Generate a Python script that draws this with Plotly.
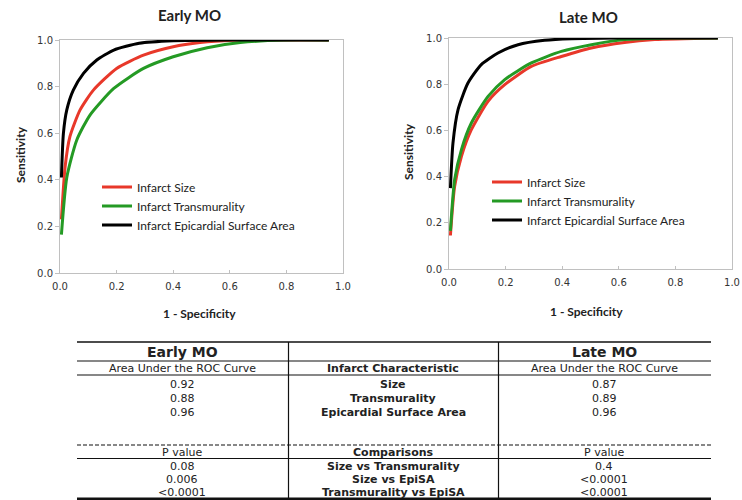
import plotly.graph_objects as go

W, H = 742, 500

# ---------------- data ----------------
series_names = ["Infarct Size", "Infarct Transmurality", "Infarct Epicardial Surface Area"]
series_colors = ["#e8382a", "#249a24", "#000000"]

# Early MO ROC curves (1 - specificity, sensitivity)
early_size_x = [0.005, 0.018, 0.035, 0.071, 0.118, 0.20, 0.295, 0.40, 0.495, 0.61, 0.75, 0.95]
early_size_y = [0.23, 0.455, 0.585, 0.70, 0.785, 0.878, 0.935, 0.971, 0.989, 0.999, 1.0, 1.0]
early_trans_x = [0.005, 0.024, 0.059, 0.106, 0.19, 0.295, 0.40, 0.52, 0.637, 0.79, 0.95]
early_trans_y = [0.165, 0.41, 0.57, 0.678, 0.792, 0.878, 0.928, 0.967, 0.989, 1.0, 1.0]
early_epi_x = [0.005, 0.012, 0.024, 0.047, 0.083, 0.13, 0.19, 0.28, 0.40, 0.61, 0.95]
early_epi_y = [0.41, 0.599, 0.70, 0.785, 0.857, 0.914, 0.957, 0.986, 0.997, 1.0, 1.0]

# Late MO ROC curves
late_size_x = [0.005, 0.02, 0.044, 0.079, 0.138, 0.197, 0.291, 0.397, 0.503, 0.62, 0.727, 0.95]
late_size_y = [0.145, 0.358, 0.488, 0.603, 0.726, 0.798, 0.877, 0.92, 0.957, 0.981, 0.993, 1.0]
late_trans_x = [0.005, 0.02, 0.044, 0.079, 0.138, 0.197, 0.291, 0.397, 0.503, 0.62, 0.78, 0.95]
late_trans_y = [0.165, 0.387, 0.517, 0.632, 0.747, 0.82, 0.892, 0.942, 0.971, 0.993, 1.0, 1.0]
late_epi_x = [0.005, 0.014, 0.032, 0.067, 0.114, 0.173, 0.244, 0.338, 0.432, 0.60, 0.95]
late_epi_y = [0.35, 0.545, 0.69, 0.805, 0.885, 0.935, 0.971, 0.99, 0.997, 1.0, 1.0]

tick_vals = [0.0, 0.2, 0.4, 0.6, 0.8, 1.0]
tick_text = ["0.0", "0.2", "0.4", "0.6", "0.8", "1.0"]

# Table contents
table_headers = ["Early MO", "", "Late MO"]
auc_sub = ["Area Under the ROC Curve", "Infarct Characteristic", "Area Under the ROC Curve"]
auc_early = ["0.92", "0.88", "0.96"]
characteristics = ["Size", "Transmurality", "Epicardial Surface Area"]
auc_late = ["0.87", "0.89", "0.96"]
p_sub = ["P value", "Comparisons", "P value"]
p_early = ["0.08", "0.006", "<0.0001"]
comparisons = ["Size vs Transmurality", "Size vs EpiSA", "Transmurality vs EpiSA"]
p_late = ["0.4", "<0.0001", "<0.0001"]


def px(x):
    return x / W


def py(y):
    return 1 - y / H


fig = go.Figure()

early = [(early_size_x, early_size_y), (early_trans_x, early_trans_y), (early_epi_x, early_epi_y)]
late = [(late_size_x, late_size_y), (late_trans_x, late_trans_y), (late_epi_x, late_epi_y)]

for i, (xs, ys) in enumerate(early):
    fig.add_trace(go.Scatter(x=xs, y=ys, mode="lines", name=series_names[i],
                             line=dict(color=series_colors[i], width=3, shape="spline", smoothing=0.6),
                             xaxis="x", yaxis="y", legend="legend"))
for i, (xs, ys) in enumerate(late):
    fig.add_trace(go.Scatter(x=xs, y=ys, mode="lines", name=series_names[i],
                             line=dict(color=series_colors[i], width=3, shape="spline", smoothing=0.6),
                             xaxis="x2", yaxis="y2", legend="legend2"))

axis_common = dict(range=[0, 1], tickvals=tick_vals, ticktext=tick_text, showgrid=False, zeroline=False,
                   showline=True, mirror=True, linecolor="#c0c0c0", linewidth=1,
                   tickcolor="#c0c0c0", automargin=False,
                   tickfont=dict(family="DejaVu Sans", size=10, color="#333333"), fixedrange=True)
x_ticks = dict(ticks="inside", ticklen=3, ticklabelstandoff=4)
y_ticks = dict(ticks="outside", ticklen=4)

legend_common = dict(font=dict(family="Lato", size=12, color="#222222"), bgcolor="rgba(0,0,0,0)",
                     borderwidth=0, itemwidth=30, tracegroupgap=0, xanchor="left", yanchor="middle")

fig.update_layout(
    width=W, height=H, margin=dict(l=0, r=0, t=0, b=0, autoexpand=False),
    paper_bgcolor="white", plot_bgcolor="white", showlegend=True,
    xaxis=dict(domain=[px(60), px(343)], anchor="y", **axis_common, **x_ticks),
    yaxis=dict(domain=[py(273), py(40)], anchor="x", **axis_common, **y_ticks),
    xaxis2=dict(domain=[px(449), px(732)], anchor="y2", **axis_common, **x_ticks),
    yaxis2=dict(domain=[py(269), py(38)], anchor="x2", **axis_common, **y_ticks),
    legend=dict(x=px(97), y=py(206), **legend_common),
    legend2=dict(x=px(487), y=py(201), **legend_common),
)

ann = []
shapes = []

def text(x, y, s, size=10, bold=False, family="DejaVu Sans", angle=0, color="#222222"):
    ann.append(dict(x=px(x), y=py(y), xref="paper", yref="paper", text=f"<b>{s}</b>" if bold else s,
                    showarrow=False, textangle=angle, xanchor="center", yanchor="middle",
                    font=dict(family=family, size=size, color=color)))

# chart titles and axis titles
text(189, 15, "Early MO", size=15, bold=True, family="Lato")
text(588, 17, "Late MO", size=15, bold=True, family="Lato")
text(20, 155, "Sensitivity", size=12, bold=True, family="Lato", angle=-90)
text(408, 152, "Sensitivity", size=12, bold=True, family="Lato", angle=-90)
text(200, 313, "1 - Specificity", size=12, bold=True, family="Lato")
text(586, 311, "1 - Specificity", size=12, bold=True, family="Lato")

# table
col_x = [182, 393, 604]
def hline(y, w=1.2, dash="solid", x0=77, x1=711):
    shapes.append(dict(type="line", xref="paper", yref="paper", x0=px(x0), x1=px(x1), y0=py(y), y1=py(y),
                       line=dict(color="#111111", width=w, dash=dash)))

hline(342, 1.5)
hline(361, 1.2)
hline(375, 1.2)
hline(445, 1.2, dash="4px,2px")
hline(458.5, 1.2)
hline(498.8, 2.4)
for vx in [288.5, 498.5]:
    shapes.append(dict(type="line", xref="paper", yref="paper", x0=px(vx), x1=px(vx), y0=py(342), y1=py(498),
                       line=dict(color="#111111", width=1.2)))

for j in range(3):
    if table_headers[j]:
        text(col_x[j], 351.5, table_headers[j], size=14, bold=True)
    text(col_x[j], 368, auc_sub[j], size=11, bold=(j == 1))
    text(col_x[j], 452.5, p_sub[j], size=11, bold=(j == 1))

row_y1 = [384, 398, 412]
row_y2 = [466, 479.5, 492.5]
for i in range(3):
    text(col_x[0], row_y1[i], auc_early[i], size=11)
    text(col_x[1], row_y1[i], characteristics[i], size=11, bold=True)
    text(col_x[2], row_y1[i], auc_late[i], size=11)
    text(col_x[0], row_y2[i], p_early[i], size=11)
    text(col_x[1], row_y2[i], comparisons[i], size=11, bold=True)
    text(col_x[2], row_y2[i], p_late[i], size=11)

fig.update_layout(annotations=ann, shapes=shapes)
fig.write_html("out.html", config={"displayModeBar": False},
               post_script="document.body.style.margin='0';document.body.style.overflow='hidden';")
